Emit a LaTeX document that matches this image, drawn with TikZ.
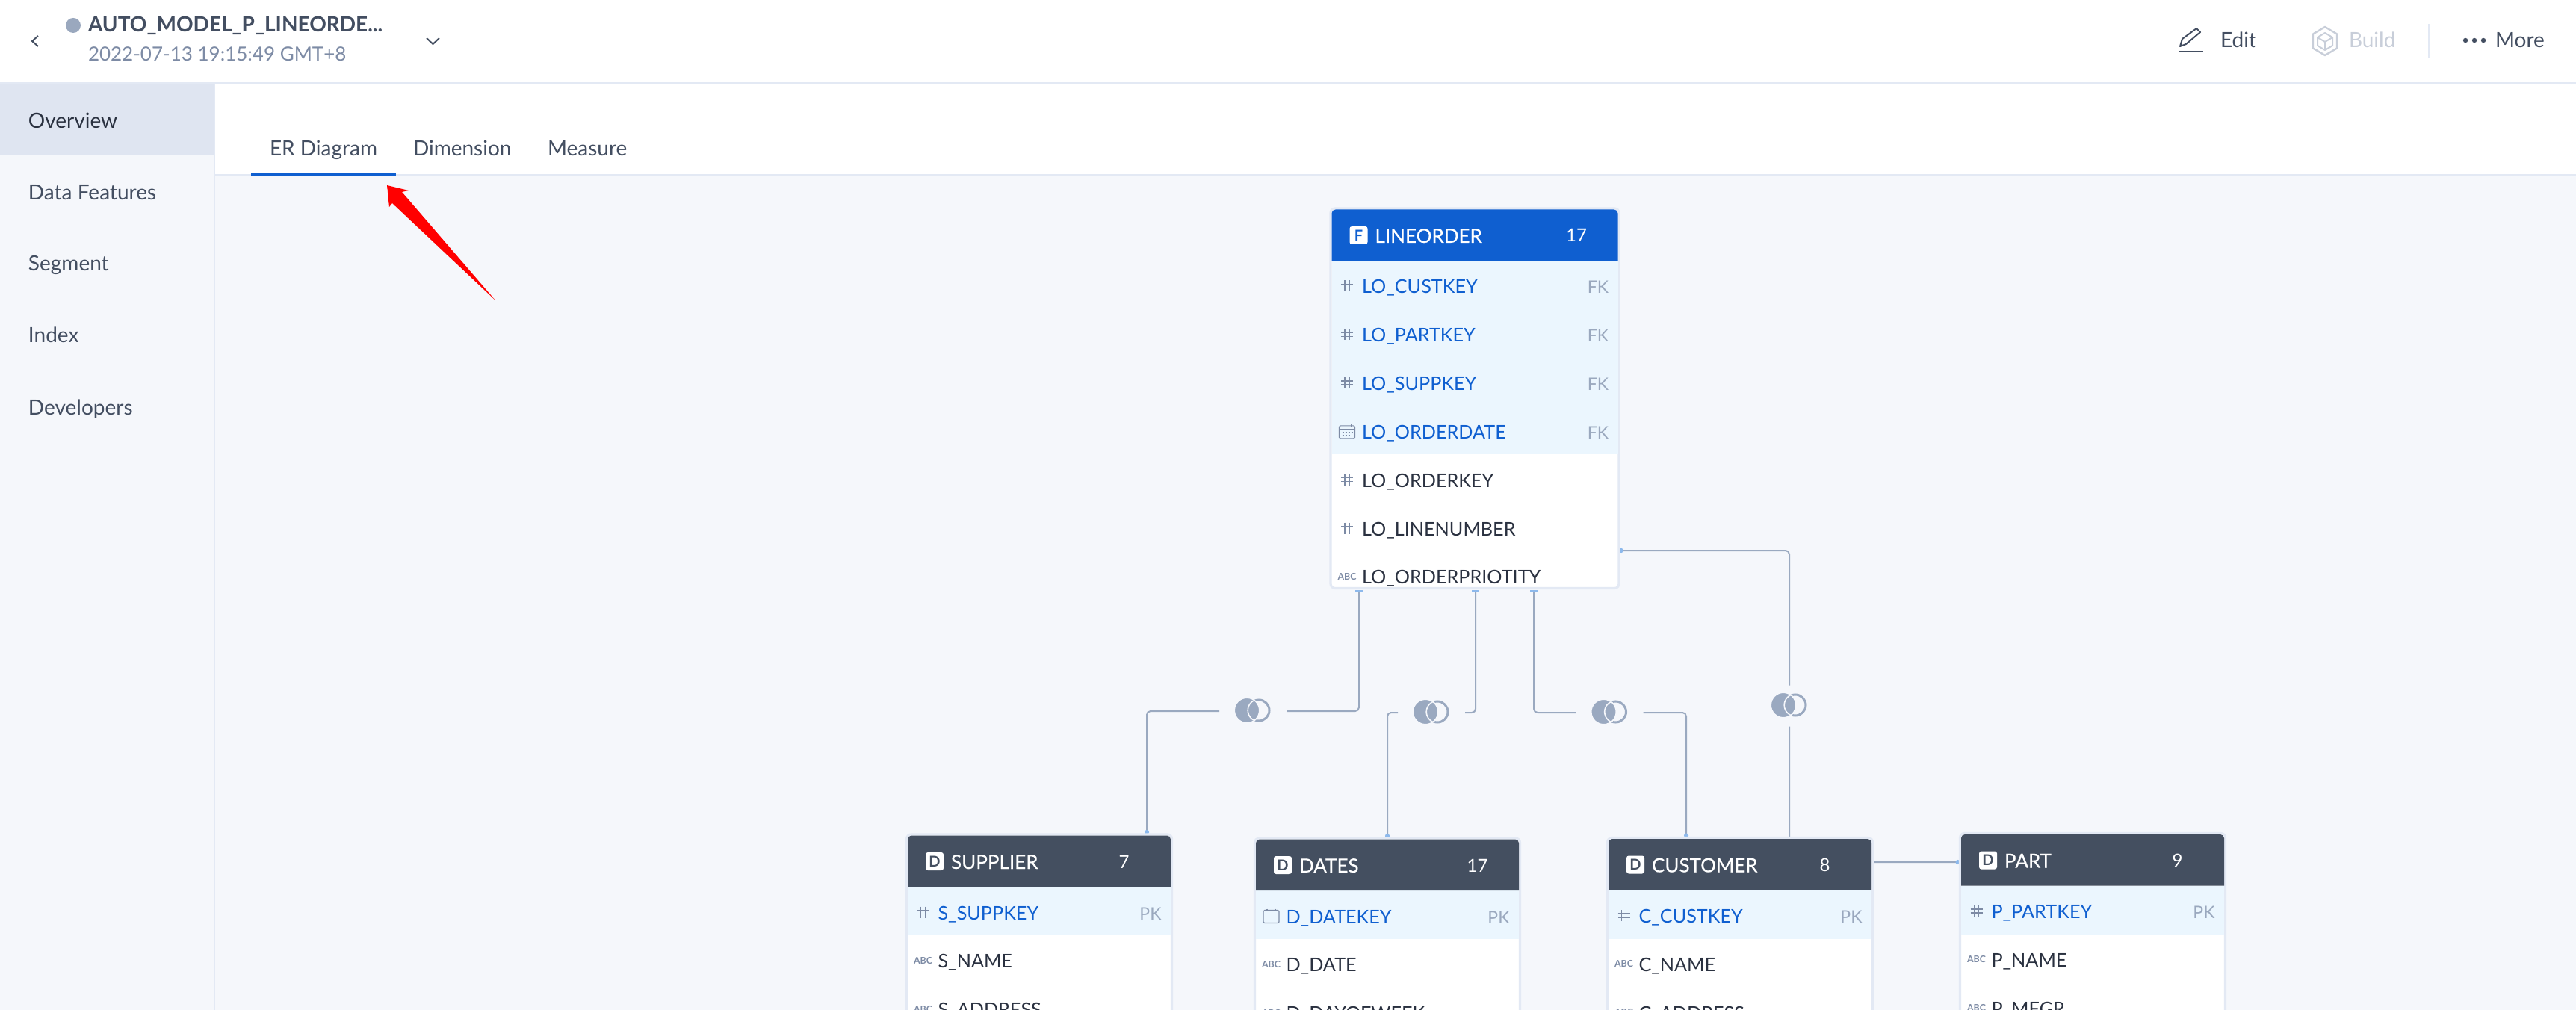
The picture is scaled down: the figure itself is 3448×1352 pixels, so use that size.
\documentclass[tikz,border=0pt]{standalone}
\usepackage{fontspec}
\setmainfont{Lato}
\newfontfamily\latomed[FakeBold=0.4]{Lato}
\usetikzlibrary{arrows.meta,backgrounds}
\definecolor{pagegray}{HTML}{F5F7FB}
\definecolor{edgegray}{HTML}{E3E9F4}
\definecolor{bandgray}{HTML}{DFE5F1}
\definecolor{inkdark}{HTML}{2A3140}
\definecolor{inkslate}{HTML}{434E61}
\definecolor{inkmuted}{HTML}{7D8BA5}
\definecolor{tagmuted}{HTML}{9AA8BE}
\definecolor{buildgray}{HTML}{C8CED9}
\definecolor{linkgray}{HTML}{9AA9C0}
\definecolor{dotblue}{HTML}{8DB9EC}
\definecolor{keyblue}{HTML}{0F5FD0}
\definecolor{keyband}{HTML}{EBF6FE}
\definecolor{headblue}{HTML}{0F5FD0}
\definecolor{headslate}{HTML}{444F60}
\newcommand\hashmark{\tikz[x=0.5pt,y=-0.5pt,line width=.65pt]{
    \draw[inkmuted] (0,5) -- (16,5) (0,10) -- (16,10) (5,0) -- (5,15) (11,0) -- (11,15);}}
\newcommand\abcmark{{\fontsize{6.2}{8}\selectfont\bfseries ABC}}
\newcommand\calmark{\tikz[x=0.5pt,y=-0.5pt,line width=.6pt]{
    \draw[inkmuted,rounded corners=.8pt] (0,0) rectangle (21,17);
    \draw[inkmuted] (0,5) -- (21,5) (5,-2) -- (5,1) (16,-2) -- (16,1);
    \draw[inkmuted,dash pattern=on 1pt off 1pt] (4,9) -- (18,9) (4,13) -- (14,13);}}
\newcommand\joinmark[3]{
    \node[joinslot] (#1) at (#2,#3) {};
    \draw[linkgray,line width=1.5pt] (#2+8,#3-1) circle (7pt);
    \fill[linkgray,draw=pagegray,line width=.8pt] (#2-8,#3-1) circle (8.4pt);
    \begin{scope}
        \clip (#2-8,#3-1) circle (8pt);
        \draw[pagegray,line width=.8pt] (#2+8,#3-1) circle (7.4pt);
    \end{scope}}
\newcommand\fieldrows[3]{
    \foreach \i/\ico/\txt/\tag/\st in {#3}{
        \node[fieldicon] (#1i\i) at ([xshift=11pt,yshift={-(52pt+32.4pt*\i)}]#1.north west) {\ico};
        \node[\st] (#1n\i) at ([xshift=21pt,yshift={-(57pt+32.4pt*\i)}]#1.north west) {\txt};
        \node[tagname] (#1t\i) at ([xshift=#2*0.5pt-7pt,yshift={-(57pt+32.4pt*\i)}]#1.north west) {\tag};
    }}
\begin{document}
\begin{tikzpicture}[
    x=0.5pt, y=-0.5pt, >=Stealth,
    outline/.style={outer sep=0pt, inner sep=0pt},
    card/.style={outline, draw=edgegray, line width=1.6pt, fill=white, rounded corners=3pt, anchor=north west},
    badge/.style={outline, fill=white, rounded corners=1.5pt, minimum size=12pt, font=\fontsize{10}{12}\selectfont\bfseries},
    cardtitle/.style={outline, anchor=base west, text=white, font=\fontsize{13}{15}\selectfont\latomed},
    cardcount/.style={outline, anchor=base, text=white, font=\fontsize{12}{15}\selectfont},
    fieldicon/.style={outline, text=inkmuted, font=\fontsize{12}{14}\selectfont},
    keyname/.style={outline, anchor=base west, text=keyblue, font=\fontsize{12.6}{15}\selectfont},
    plainname/.style={outline, anchor=base west, text=inkdark, font=\fontsize{12.6}{15}\selectfont},
    tagname/.style={outline, anchor=base east, text=tagmuted, font=\fontsize{11.5}{13}\selectfont},
    menuitem/.style={outline, anchor=base west, text=inkslate, font=\fontsize{14}{17}\selectfont},
    joinslot/.style={outline, minimum width=45pt, minimum height=27.5pt},
    link/.style={linkgray, line width=1pt, rounded corners=2.5pt},
    tolink/.style={link, -{Circle[length=3pt,fill=dotblue,color=dotblue]}},
    fromlink/.style={link, {Bar[width=5pt,line width=.8pt,color=dotblue]}-}
]
\useasboundingbox (0,0) rectangle (3448,1352);

% page frame
\begin{scope}[on background layer]
\fill[pagegray] (0,0) rectangle (3448,1352);
\fill[white] (0,0) rectangle (3448,111);
\fill[white] (288,112) rectangle (3448,234);
\fill[bandgray] (0,112) rectangle (286,208);
\fill[edgegray] (0,110) rectangle (3448,112.5);
\fill[edgegray] (286,112) rectangle (288,1352);
\fill[edgegray] (288,233) rectangle (3448,235);
\fill[keyblue] (336,232) rectangle (530,236);
\end{scope}

% top bar
\draw[inkslate,line width=1pt] (51,48) -- (43,55) -- (51,62);
\draw[inkslate,line width=1pt] (571,51) -- (579.5,59) -- (588,51);
\node[outline,circle,fill=tagmuted,minimum size=10pt] (statedot) at (98,34) {};
\node[outline,anchor=base west,text=inkslate,font=\fontsize{14}{17}\selectfont\bfseries] (modelname) at (118,43) {AUTO\_MODEL\_P\_LINEORDE...};
\node[outline,anchor=base west,text=inkmuted,font=\fontsize{13}{16}\selectfont] (modeldate) at (118,81.5) {2022-07-13 19:15:49 GMT+8};
\draw[inkslate,line width=1pt,line join=round] (2918,62) -- (2921,52) -- (2940,38) -- (2945,43) -- (2926,59) -- cycle;
\draw[inkslate,line width=1.4pt] (2916,69) -- (2949,69);
\node[menuitem] (editbtn) at (2972,64) {Edit};
\draw[buildgray,line width=1.2pt,line join=round] (3112,36) -- (3128,45.5) -- (3128,64.5) -- (3112,74) -- (3096,64.5) -- (3096,45.5) -- cycle;
\draw[buildgray,line width=1pt,line join=round] (3112,44) -- (3122,50) -- (3122,61) -- (3112,67) -- (3102,61) -- (3102,50) -- cycle (3102,50) -- (3112,56) -- (3122,50) (3112,56) -- (3112,67);
\node[menuitem,text=buildgray] (buildbtn) at (3144,64) {Build};
\fill[edgegray] (3250,32) rectangle (3252,78);
\foreach \dx in {3300,3312,3324}
    \fill[inkslate] (\dx,54) circle (1.6pt);
\node[menuitem] (morebtn) at (3340,64) {More};

% side menu and tabs
\node[menuitem,text=inkdark] (menuover) at (38,172) {Overview};
\node[menuitem] (menufeat) at (38,268) {Data Features};
\node[menuitem] (menuseg) at (38,363) {Segment};
\node[menuitem] (menuidx) at (38,459) {Index};
\node[menuitem] (menudev) at (38,556) {Developers};
\node[menuitem] (taber) at (361,209) {ER Diagram};
\node[menuitem] (tabdim) at (553,209) {Dimension};
\node[menuitem] (tabmea) at (733,209) {Measure};
\fill[red] (518,248) -- (547,255) -- (538,257) -- (663,402) -- (525,272) -- (521,277) -- cycle;

% tables
\foreach \nm/\x/\y/\w/\h/\kh/\hc/\ltr/\ttl/\cnt/\cx in {
    lineorder/1781/279/386/508.5/259/headblue/F/LINEORDER/17/329,
    supplier/1213.5/1117/355/300/65/headslate/D/SUPPLIER/7/291,
    dates/1679.5/1122/355/300/65/headslate/D/DATES/17/298,
    customer/2151.5/1121.5/355/300/65/headslate/D/CUSTOMER/8/291,
    part/2623.5/1115.5/355/300/65/headslate/D/PART/9/291}{
    \node[card,minimum width=\w*0.5pt,minimum height=\h*0.5pt] (\nm) at (\x,\y) {};
    \fill[keyband] (\x+1.5,\y+70) rectangle (\x+\w-1.5,\y+70+\kh);
    \fill[\hc] (\x+1.5,\y+70) [rounded corners=2.5pt] -- (\x+1.5,\y+1.5) -- (\x+\w-1.5,\y+1.5) [sharp corners] -- (\x+\w-1.5,\y+70) -- cycle;
    \node[badge,text=\hc] (\nm b) at (\x+37.5,\y+36) {\ltr};
    \node[cardtitle] (\nm h) at (\x+59.5,\y+46) {\ttl};
    \node[cardcount] (\nm c) at (\x+\cx,\y+45) {\cnt};
}

\fieldrows{lineorder}{386}{
    0/\hashmark/LO\_CUSTKEY/FK/keyname,
    1/\hashmark/LO\_PARTKEY/FK/keyname,
    2/\hashmark/LO\_SUPPKEY/FK/keyname,
    3/\calmark/LO\_ORDERDATE/FK/keyname,
    4/\hashmark/LO\_ORDERKEY//plainname,
    5/\hashmark/LO\_LINENUMBER//plainname,
    6/\abcmark/LO\_ORDERPRIOTITY//plainname}
\fieldrows{supplier}{355}{
    0/\hashmark/S\_SUPPKEY/PK/keyname,
    1/\abcmark/S\_NAME//plainname,
    2/\abcmark/S\_ADDRESS//plainname}
\fieldrows{dates}{355}{
    0/\calmark/D\_DATEKEY/PK/keyname,
    1/\abcmark/D\_DATE//plainname,
    2/\abcmark/D\_DAYOFWEEK//plainname}
\fieldrows{customer}{355}{
    0/\hashmark/C\_CUSTKEY/PK/keyname,
    1/\abcmark/C\_NAME//plainname,
    2/\abcmark/C\_ADDRESS//plainname}
\fieldrows{part}{355}{
    0/\hashmark/P\_PARTKEY/PK/keyname,
    1/\abcmark/P\_NAME//plainname,
    2/\abcmark/P\_MFGR//plainname}

% joins
\joinmark{joinsupp}{1677}{952}
\joinmark{joindates}{1916}{954}
\joinmark{joincust}{2154.5}{954}
\joinmark{joinpart}{2395}{945}

\begin{scope}[on background layer]
\draw[fromlink] ([xshift=19pt,yshift=-1.25pt]lineorder.south west) |- (joinsupp.east);
\draw[tolink] (joinsupp.west) -| ([xshift=160.75pt]supplier.north west);
\draw[fromlink] ([xshift=97pt,yshift=-1.25pt]lineorder.south west) |- (joindates.east);
\draw[tolink] (joindates.west) -| ([xshift=88.75pt]dates.north west);
\draw[fromlink] ([xshift=136pt,yshift=-1.25pt]lineorder.south west) |- (joincust.west);
\draw[tolink] (joincust.east) -| ([xshift=52.75pt]customer.north west);
\draw[tolink] (joinpart.north) |- ([yshift=25.25pt]lineorder.south east);
\draw[tolink] (joinpart.south) |- ([yshift=-19.25pt]part.north west);
\end{scope}
\end{tikzpicture}
\end{document}
